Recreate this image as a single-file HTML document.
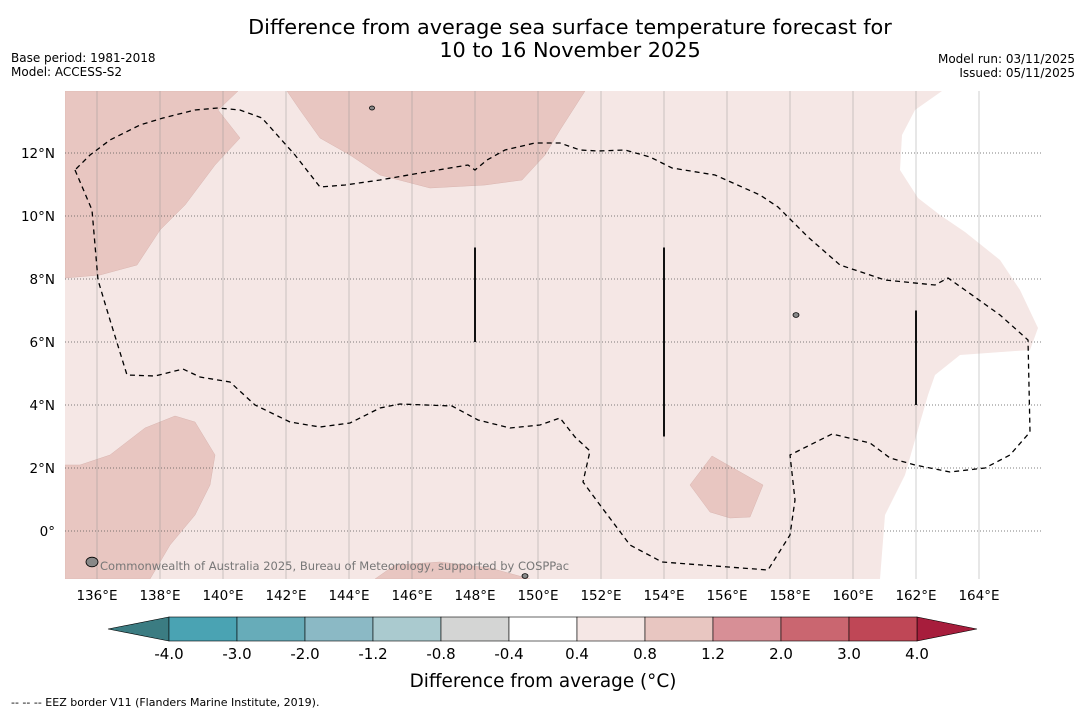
<!DOCTYPE html>
<html><head><meta charset="utf-8"><style>
body{margin:0;background:#fff;width:1085px;height:713px;overflow:hidden;font-family:"DejaVu Sans","Liberation Sans",sans-serif}
svg{position:absolute;left:0;top:0}
</style></head><body>
<svg id="s" width="1085" height="713">
<text x="570" y="34" text-anchor="middle" font-size="20.8">Difference from average sea surface temperature forecast for</text>
<text x="570" y="57" text-anchor="middle" font-size="20.8">10 to 16 November 2025</text>
<text x="11" y="62" font-size="12">Base period: 1981-2018</text>
<text x="11" y="76" font-size="12">Model: ACCESS-S2</text>
<text x="1075" y="63" font-size="12" text-anchor="end">Model run: 03/11/2025</text>
<text x="1075" y="77" font-size="12" text-anchor="end">Issued: 05/11/2025</text>
<g id="map"></g>
<g id="cbar"></g>
<text x="543" y="687" text-anchor="middle" font-size="18.4">Difference from average (°C)</text>
<text x="11" y="706" font-size="11">--  --  -- EEZ border V11 (Flanders Marine Institute, 2019).</text>
</svg>
<script>
const NS="http://www.w3.org/2000/svg";
const lonTicks=[136,138,140,142,144,146,148,150,152,154,156,158,160,162,164];
const latTicks=[0,2,4,6,8,10,12];
const cbBounds=["-4.0","-3.0","-2.0","-1.2","-0.8","-0.4","0.4","0.8","1.2","2.0","3.0","4.0"];
const cbColors=["#4aa3b3","#67acb9","#8bb9c5","#aacacf","#d4d5d4","#ffffff","#f5e7e5","#e8c6c1","#d78f96","#ca6670","#bf4756"];
const X0=65,X1=1042,Y0=91,Y1=579;
const lx=l=>65.5+(l-135)*31.5, ly=a=>531-a*31.5;
const px2lon=x=>135+(x-65.5)/31.5, px2lat=y=>(531-y)/31.5;
function mk(t,a,p,name){const e=document.createElementNS(NS,t);for(const k in a)e.setAttribute(k,a[k]);


(p||document.getElementById('map')).appendChild(e);return e;}
const conv=a=>a.map(([x,y])=>[px2lon(x),px2lat(y)]);
const warmTL=conv([[65,91],[238,91],[218,110],[240,138],[215,165],[185,205],[160,230],[137,265],[100,275],[65,278]]);
const warmTM=conv([[287,91],[585,91],[560,130],[545,155],[522,180],[485,185],[430,188],[380,175],[350,155],[320,138],[300,110]]);
const warmBL=conv([[65,465],[80,465],[110,455],[145,428],[175,416],[195,422],[215,455],[210,485],[195,515],[170,545],[150,579],[65,579]]);
const warmMR=conv([[712,456],[763,485],[750,517],[730,518],[710,512],[690,485]]);
const warmBM=conv([[375,579],[395,565],[440,562],[490,568],[530,579]]);
const neutralR=conv([[942,91],[1042,91],[1042,579],[880,579],[885,515],[905,475],[915,440],[928,395],[935,375],[960,355],[1030,350],[1038,328],[1020,290],[1000,260],[965,232],[940,215],[918,198],[900,170],[902,135],[915,110]]);
const eez=conv([[75,170],[92,210],[98,280],[110,320],[127,375],[155,376],[183,369],[200,377],[230,382],[255,405],[290,422],[320,427],[350,423],[380,408],[400,404],[452,406],[478,420],[510,428],[540,425],[560,418],[575,437],[590,451],[583,482],[600,505],[630,545],[662,562],[768,570],[790,535],[795,500],[790,455],[810,445],[832,434],[870,443],[890,458],[915,465],[950,472],[985,468],[1010,455],[1030,432],[1028,340],[1000,315],[965,290],[948,278],[935,285],[885,280],[840,265],[808,237],[778,207],[760,195],[715,175],[672,168],[650,157],[625,150],[598,151],[580,150],[560,143],[535,143],[505,150],[487,160],[475,170],[468,165],[420,173],[380,180],[345,185],[320,187],[295,155],[262,118],[240,110],[218,108],[195,110],[163,118],[140,125],[110,140],[90,155],[75,170]]);
const segLines=[[148,9,6],[154,9,3],[162,7,4]];
const pts=a=>a.map(([l,t])=>lx(l).toFixed(1)+","+ly(t).toFixed(1)).join(" ");
const defs=mk('clipPath',{id:'cp'},null,'map-clip');
mk('rect',{x:X0,y:Y0,width:X1-X0,height:Y1-Y0},defs,'clip-rect');
const g=mk('g',{'clip-path':'url(#cp)'},null,'map-area');
mk('rect',{x:X0,y:Y0,width:X1-X0,height:Y1-Y0,fill:'#f5e7e5'},g,'band-0p4-0p8');
[warmTL,warmTM,warmBL,warmMR,warmBM].forEach((p,i)=>mk('polygon',{points:pts(p),fill:'#e8c6c1',stroke:'#d9b5b0','stroke-width':0.5},g,'warm-region-'+i));
mk('polygon',{points:pts(neutralR),fill:'#fff'},g,'neutral-region');
lonTicks.forEach(l=>{mk('line',{x1:lx(l),x2:lx(l),y1:Y0,y2:Y1,stroke:'#888','stroke-width':0.5,'stroke-opacity':0.8},g,'lon-grid-'+l);
 mk('text',{x:lx(l),y:600,'text-anchor':'middle','font-size':13.5},null,'lon-label-'+l).textContent=l+"°E";});
latTicks.forEach(a=>{mk('line',{x1:X0,x2:X1,y1:ly(a),y2:ly(a),stroke:'#555','stroke-width':0.7,'stroke-dasharray':'1,2'},g,'lat-grid-'+a);
 mk('text',{x:55,y:ly(a)+5,'text-anchor':'end','font-size':13.5},null,'lat-label-'+a).textContent=a===0?"0°":a+"°N";});
mk('polyline',{points:pts(eez),fill:'none',stroke:'#000','stroke-width':1.3,'stroke-dasharray':'5,4'},g,'eez-border');
segLines.forEach(([l,a,b])=>mk('line',{x1:lx(l),x2:lx(l),y1:ly(a),y2:ly(b),stroke:'#111','stroke-width':2},g,'boundary-'+l));
[[372,108,2.5],[796,315,3],[92,562,6],[525,576,3]].forEach(([x,y,r],i)=>mk('ellipse',{cx:x,cy:y,rx:r,ry:r*0.8,fill:'#888',stroke:'#000','stroke-width':0.8},g,'island-'+i));
mk('text',{x:100,y:570,'font-size':11.5,fill:'#777'},g,'copyright').textContent="Commonwealth of Australia 2025, Bureau of Meteorology, supported by COSPPac";
const cb=document.getElementById('cbar');
const cx0=169,cx1=917,cy0=617,cy1=641,w=(cx1-cx0)/cbColors.length;
mk('polygon',{points:`108,629 ${cx0},${cy0} ${cx0},${cy1}`,fill:'#3b7c82',stroke:'#000','stroke-width':0.6},cb,'cbar-extend-low');
mk('polygon',{points:`977,629 ${cx1},${cy0} ${cx1},${cy1}`,fill:'#a71d3c',stroke:'#000','stroke-width':0.6},cb,'cbar-extend-high');
cbColors.forEach((c,i)=>mk('rect',{x:cx0+i*w,y:cy0,width:w,height:cy1-cy0,fill:c,stroke:'#000','stroke-width':0.6},cb,'cbar-box-'+i));
cbBounds.forEach((t,i)=>mk('text',{x:cx0+i*w,y:659,'text-anchor':'middle','font-size':15},cb,'cbar-tick-'+i).textContent=t);
</script>
</body></html>
